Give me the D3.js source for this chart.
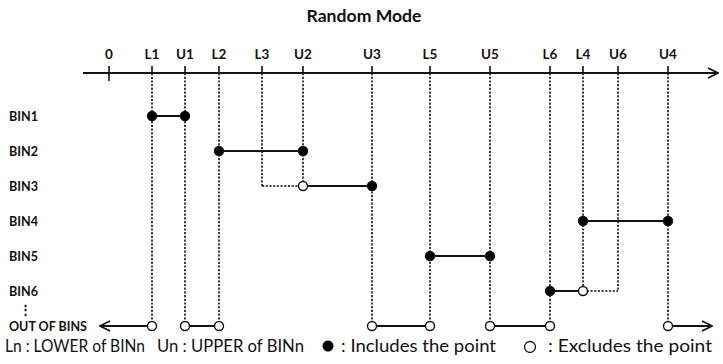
<!DOCTYPE html>
<html>
<head>
<meta charset="utf-8">
<script src="https://cdn.jsdelivr.net/npm/d3@7"></script>
<style>
  body { margin: 0; background: #fff; }
  text { font-family: Lato, "Open Sans", sans-serif; fill: #111; }
</style>
</head>
<body>
<div id="chart"></div>
<script>
// axis points (name + position along the axis, arbitrary units)
var pointNames = ["0", "L1", "U1", "L2", "L3", "U2", "U3", "L5", "U5", "L6", "L4", "U6", "U4"];
var pointPos   = [0, 4.3, 7.6, 11.0, 15.3, 19.4, 26.3, 32.1, 38.1, 44.1, 47.4, 50.9, 55.9];

var rows = ["BIN1", "BIN2", "BIN3", "BIN4", "BIN5", "BIN6", "OUT OF BINS"];

// each bin: nominal lower/upper, and the part that actually belongs to it
var binLower  = ["L1", "L2", "L3", "L4", "L5", "L6"];
var binUpper  = ["U1", "U2", "U3", "U4", "U5", "U6"];
var binStart  = ["L1", "L2", "U2", "L4", "L5", "L6"];
var binEnd    = ["U1", "U2", "U3", "U4", "U5", "L4"];
var startIncl = [true, true, false, true, true, true];
var endIncl   = [true, true, true, true, true, false];

// out-of-bins ranges (null = open to infinity)
var outFrom = [null, "U1", "U3", "U5", "U4"];
var outTo   = ["L1", "L2", "L5", "L6", null];

var legendTexts = ["Ln : LOWER of BINn", "Un : UPPER of BINn", ": Includes the point", ": Excludes the point"];

var width = 723, height = 364;
var axisY = 73;

var svg = d3.select("#chart").append("svg")
    .attr("width", width)
    .attr("height", height);

var x = d3.scaleLinear().domain([0, 55.9]).range([109, 668]);
var y = d3.scalePoint().domain(rows).range([116, 326]);
var pos = {};
pointNames.forEach(function(n, i) { pos[n] = x(pointPos[i]); });

svg.append("defs").append("marker")
    .attr("id", "arrow")
    .attr("viewBox", "0 0 12 12")
    .attr("refX", 11).attr("refY", 6)
    .attr("markerWidth", 12).attr("markerHeight", 12)
    .attr("markerUnits", "userSpaceOnUse")
    .attr("orient", "auto-start-reverse")
    .append("path")
    .attr("d", "M1,1 L11,6 L1,11")
    .attr("fill", "none")
    .attr("stroke", "#111")
    .attr("stroke-width", 1.6);

// title
svg.append("text")
    .attr("x", 364).attr("y", 22)
    .attr("text-anchor", "middle")
    .attr("font-size", 17.5)
    .attr("font-weight", 700)
    .attr("textLength", 115)
    .attr("lengthAdjust", "spacingAndGlyphs")
    .text("Random Mode");

// lowest row each point reaches
var lowest = {};
function reach(name, row) {
    if (name == null) return;
    if (lowest[name] === undefined || y(row) > y(lowest[name])) lowest[name] = row;
}
binStart.forEach(function(n, i) { reach(n, rows[i]); reach(binEnd[i], rows[i]); reach(binLower[i], rows[i]); reach(binUpper[i], rows[i]); });
outFrom.forEach(function(n) { reach(n, "OUT OF BINS"); });
outTo.forEach(function(n) { reach(n, "OUT OF BINS"); });

// dashed guide lines
svg.append("g").selectAll("line")
    .data(pointNames.filter(function(n) { return lowest[n]; }))
    .enter().append("line")
    .attr("x1", function(d) { return pos[d]; })
    .attr("x2", function(d) { return pos[d]; })
    .attr("y1", axisY)
    .attr("y2", function(d) { return y(lowest[d]); })
    .attr("stroke", "#111")
    .attr("stroke-width", 1.6)
    .attr("stroke-dasharray", "2.2,1.5");

// dashed horizontal remnants (overlapped parts of a bin)
var remnants = [];
binLower.forEach(function(l, i) {
    if (l !== binStart[i]) remnants.push([l, binStart[i], rows[i]]);
    if (binUpper[i] !== binEnd[i]) remnants.push([binEnd[i], binUpper[i], rows[i]]);
});
svg.append("g").selectAll("line")
    .data(remnants)
    .enter().append("line")
    .attr("x1", function(d) { return pos[d[0]]; })
    .attr("x2", function(d) { return pos[d[1]]; })
    .attr("y1", function(d) { return y(d[2]); })
    .attr("y2", function(d) { return y(d[2]); })
    .attr("stroke", "#111")
    .attr("stroke-width", 1.6)
    .attr("stroke-dasharray", "2.2,1.5");

// axis
svg.append("line")
    .attr("x1", x(-2.6)).attr("x2", x(60.9))
    .attr("y1", axisY).attr("y2", axisY)
    .attr("stroke", "#111")
    .attr("stroke-width", 2)
    .attr("marker-end", "url(#arrow)");

var ticks = svg.append("g").selectAll("g")
    .data(pointNames)
    .enter().append("g")
    .attr("transform", function(d) { return "translate(" + pos[d] + "," + axisY + ")"; });
ticks.append("line")
    .attr("y1", -7)
    .attr("y2", function(d) { return d === "0" ? 8 : 0; })
    .attr("stroke", "#111")
    .attr("stroke-width", 1.6);
ticks.append("text")
    .attr("y", -14)
    .attr("text-anchor", "middle")
    .attr("font-size", 13.5)
    .attr("font-weight", 700)
    .text(function(d) { return d; });

// row labels
svg.append("g").selectAll("text")
    .data(rows)
    .enter().append("text")
    .attr("x", 9)
    .attr("y", function(d) { return y(d) + 5; })
    .attr("font-size", 13)
    .attr("font-weight", 700)
    .attr("textLength", function(d) { return d === "OUT OF BINS" ? 78 : 29; })
    .attr("lengthAdjust", "spacingAndGlyphs")
    .text(function(d) { return d; });
svg.append("text")
    .attr("x", 19)
    .attr("y", (y("BIN6") + y("OUT OF BINS")) / 2 + 5)
    .attr("font-size", 13)
    .attr("font-weight", 700)
    .text("\u22EE");

// bin segments
var segs = binStart.map(function(s, i) {
    return { row: rows[i], a: s, b: binEnd[i], ai: startIncl[i], bi: endIncl[i] };
});
svg.append("g").selectAll("line")
    .data(segs)
    .enter().append("line")
    .attr("x1", function(d) { return pos[d.a]; })
    .attr("x2", function(d) { return pos[d.b]; })
    .attr("y1", function(d) { return y(d.row); })
    .attr("y2", function(d) { return y(d.row); })
    .attr("stroke", "#111")
    .attr("stroke-width", 1.8);

// out of bins segments
var outY = y("OUT OF BINS");
svg.append("g").selectAll("line")
    .data(outFrom.map(function(f, i) { return [f, outTo[i]]; }))
    .enter().append("line")
    .attr("x1", function(d) { return d[0] ? pos[d[0]] : x(-0.9); })
    .attr("x2", function(d) { return d[1] ? pos[d[1]] : x(60.3); })
    .attr("y1", outY).attr("y2", outY)
    .attr("stroke", "#111")
    .attr("stroke-width", 1.8)
    .attr("marker-start", function(d) { return d[0] ? null : "url(#arrow)"; })
    .attr("marker-end", function(d) { return d[1] ? null : "url(#arrow)"; });

// end points
var dots = [];
segs.forEach(function(d) {
    dots.push({ x: pos[d.a], y: y(d.row), fill: d.ai });
    dots.push({ x: pos[d.b], y: y(d.row), fill: d.bi });
});
outFrom.forEach(function(f, i) {
    if (f) dots.push({ x: pos[f], y: outY, fill: false });
    if (outTo[i]) dots.push({ x: pos[outTo[i]], y: outY, fill: false });
});
svg.append("g").selectAll("circle")
    .data(dots)
    .enter().append("circle")
    .attr("cx", function(d) { return d.x; })
    .attr("cy", function(d) { return d.y; })
    .attr("r", 4.5)
    .attr("fill", function(d) { return d.fill ? "#000" : "#fff"; })
    .attr("stroke", "#111")
    .attr("stroke-width", 1.4);

// legend
var legY = 352;
var legX = [5, 157, 341, 548];
var legW = [140, 147, 155, 164];
svg.append("g").selectAll("text")
    .data(legendTexts)
    .enter().append("text")
    .attr("x", function(d, i) { return legX[i]; })
    .attr("y", legY)
    .attr("font-size", 17.5)
    .attr("textLength", function(d, i) { return legW[i]; })
    .attr("lengthAdjust", "spacingAndGlyphs")
    .text(function(d) { return d; });
svg.append("circle").attr("cx", 328).attr("cy", legY - 6).attr("r", 5.5).attr("fill", "#000");
svg.append("circle").attr("cx", 530).attr("cy", legY - 5).attr("r", 5.5).attr("fill", "#fff").attr("stroke", "#111").attr("stroke-width", 1.3);
</script>
</body>
</html>
